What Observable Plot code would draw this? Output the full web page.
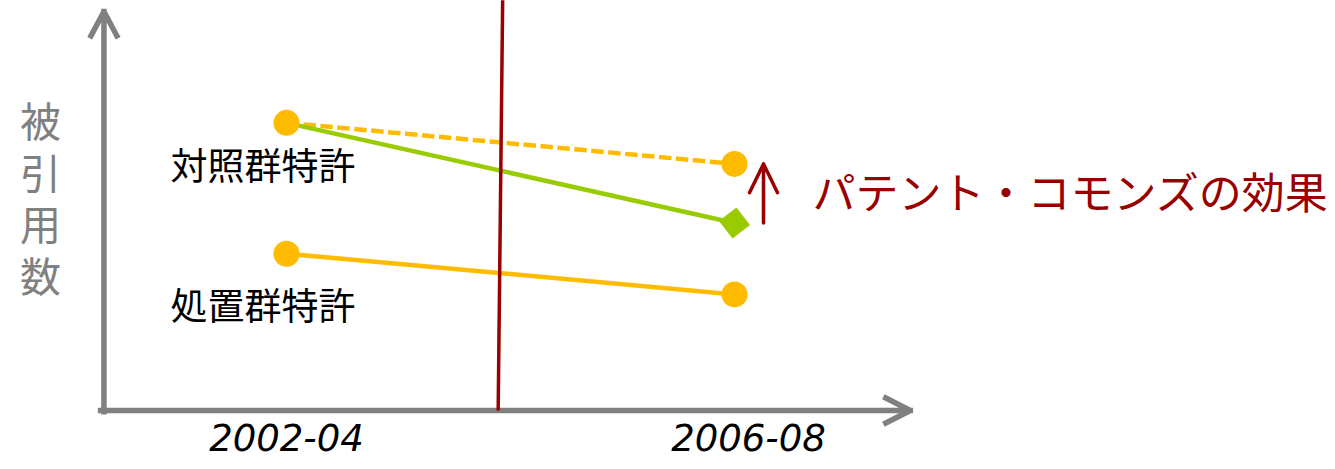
<!DOCTYPE html>
<html>
<head>
<meta charset="utf-8">
<script src="https://cdn.jsdelivr.net/npm/d3@7"></script>
<script src="https://cdn.jsdelivr.net/npm/@observablehq/plot@0.6"></script>
<style>
  html, body { margin: 0; padding: 0; background: #ffffff; }
</style>
</head>
<body>
<div id="chart"></div>
<script>
// Two observation periods, placed on the x axis at their middle year
const periods = ["2002-04", "2006-08"];
const periodMid = [2003, 2007];

// Citation counts (relative units) for each group and period
const upperObserved = [72.1, 47.0];   // green line, ends in a diamond
const upperTrend = [72.1, 61.8];      // dashed trend without the commons
const lowerObserved = [39.3, 29.1];   // solid orange line

// Group names written under the first-period points
const groupNames = ["対照群特許", "処置群特許"];
const effectLabel = "パテント・コモンズの効果";
const yTitle = "被引用数";

// Policy change between the two periods (drawn slightly leaning)
const breakBottom = 2004.89;
const breakTop = 2004.93;

const ORANGE = "#ffbb00";
const GREEN = "#99cc00";
const RED = "#990000";
const GREY = "#808080";
const CJK = "'Noto Sans CJK JP', 'Noto Sans', sans-serif";

const W = 1335, H = 469;
const mTop = 11, mBottom = 59;

const rows = (vals) => periodMid.map((x, i) => ({x, y: vals[i], period: periods[i]}));

// Upward arrow with long, narrow wings for the effect marker
const effectArrow = {
  draw(context, l) {
    const wing = 32, a = 26 * Math.PI / 180;
    context.moveTo(0, 0);
    context.lineTo(0, -l);
    context.moveTo(-wing * Math.sin(a), -l + wing * Math.cos(a));
    context.lineTo(0, -l);
    context.lineTo(wing * Math.sin(a), -l + wing * Math.cos(a));
  }
};

const effect = [{
  x: periodMid[1],
  y: upperObserved[1],
  gap: upperTrend[1] - upperObserved[1],
  mid: (upperTrend[1] + upperObserved[1]) / 2
}];

const chart = Plot.plot({
  width: W,
  height: H,
  marginLeft: 286,
  marginRight: W - 734,
  marginTop: mTop,
  marginBottom: mBottom,
  style: {background: "#ffffff", overflow: "visible"},
  x: {domain: [2003, 2007], axis: null},
  y: {domain: [0, 100], axis: null},
  length: {type: "linear", domain: [0, 100], range: [0, H - mTop - mBottom]},
  marks: [
    // axes drawn as grey arrows
    Plot.arrow([0], {
      x1: 2001.34, x2: 2008.57, y1: 0, y2: 0,
      stroke: GREY, strokeWidth: 5.5, headLength: 7.5, headAngle: 54,
      strokeLinecap: "square"
    }),
    Plot.arrow([0], {
      x1: 2001.37, x2: 2001.37, y1: -0.3, y2: 100,
      stroke: GREY, strokeWidth: 5.5, headLength: 7.5, headAngle: 56,
      strokeLinecap: "square"
    }),
    // y title, set vertically
    Plot.text([yTitle], {
      frameAnchor: "left", dx: -246, dy: -20, textAnchor: "middle",
      text: d => d, fontSize: 41, fill: GREY, fontFamily: CJK
    }),
    // period labels under the x axis
    Plot.text(rows(lowerObserved).slice(0, 1), {
      x: "x", y: 0, text: "period", dy: 29,
      fontSize: 37, fontStyle: "italic", fill: "#000",
      fontFamily: "'DejaVu Sans', sans-serif"
    }),
    Plot.text(rows(lowerObserved).slice(1), {
      x: "x", y: 0, text: "period", dy: 29, dx: 14,
      fontSize: 37, fontStyle: "italic", fill: "#000",
      fontFamily: "'DejaVu Sans', sans-serif"
    }),
    // series lines
    Plot.line(rows(upperTrend), {
      x: "x", y: "y", stroke: ORANGE, strokeWidth: 4.5,
      strokeDasharray: "12.5,4.5", strokeLinecap: "butt"
    }),
    Plot.line(rows(upperObserved), {
      x: "x", y: "y", stroke: GREEN, strokeWidth: 4.5
    }),
    Plot.line(rows(lowerObserved), {
      x: "x", y: "y", stroke: ORANGE, strokeWidth: 4.5
    }),
    // divider between the two periods
    Plot.link([0], {
      x1: breakBottom, x2: breakTop, y1: 0, y2: 102.8,
      stroke: RED, strokeWidth: 3.5
    }),
    // points
    Plot.dot([rows(upperObserved)[0], rows(upperTrend)[1], ...rows(lowerObserved)], {
      x: "x", y: "y", r: 13, fill: ORANGE
    }),
    Plot.dot(rows(upperObserved).slice(1), {
      x: "x", y: "y", symbol: "square", r: 12.5, rotate: 52, fill: GREEN
    }),
    // group names
    Plot.text([{x: periodMid[0], y: upperObserved[0], name: groupNames[0]}], {
      x: "x", y: "y", text: "name", dx: -23.5, dy: 45,
      fontSize: 37, fill: "#000", fontFamily: CJK
    }),
    Plot.text([{x: periodMid[0], y: lowerObserved[0], name: groupNames[1]}], {
      x: "x", y: "y", text: "name", dx: -23.5, dy: 54,
      fontSize: 37, fill: "#000", fontFamily: CJK
    }),
    // effect: gap between trend and observed outcome
    Plot.vector(effect, {
      x: "x", y: "y", length: "gap", rotate: 0, anchor: "start",
      dx: 29, shape: effectArrow, stroke: RED, strokeWidth: 3.5
    }),
    Plot.text(effect, {
      x: "x", y: "mid", text: () => effectLabel, dx: 78, dy: 1.5,
      textAnchor: "start", fontSize: 43, fill: RED, fontFamily: CJK
    })
  ]
});

// stack the y title's characters top to bottom
for (const t of chart.querySelectorAll("text")) {
  if (t.textContent === yTitle) {
    t.setAttribute("writing-mode", "vertical-rl");
    t.removeAttribute("dy");
    t.style.letterSpacing = "10.5px";
    t.style.dominantBaseline = "central";
  }
}

document.getElementById("chart").appendChild(chart);
</script>
</body>
</html>
